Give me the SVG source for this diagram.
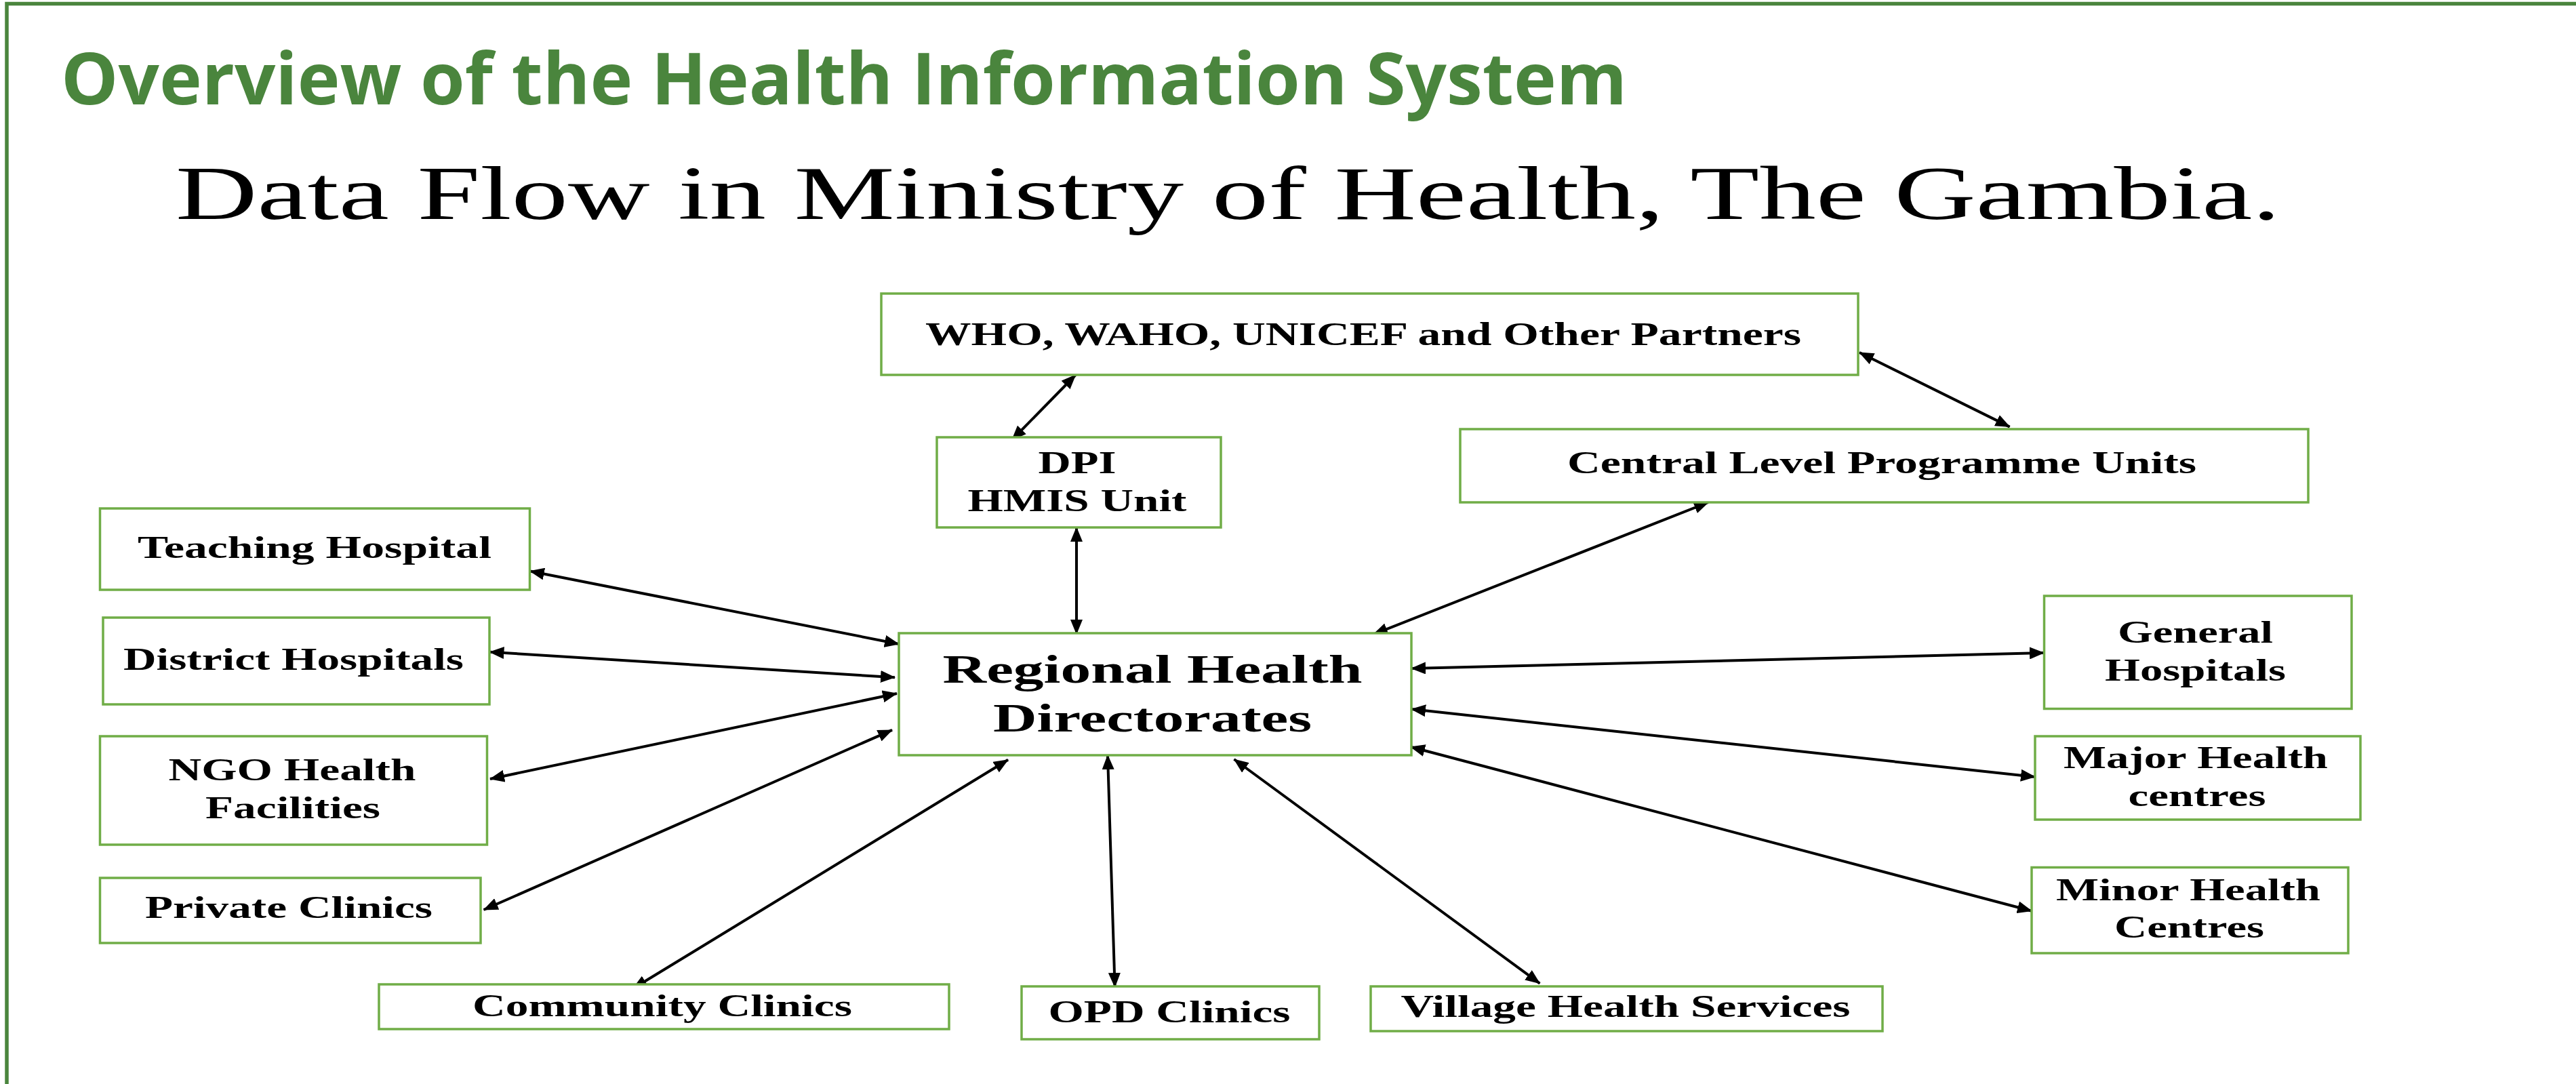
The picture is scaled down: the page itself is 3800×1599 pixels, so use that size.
<svg xmlns="http://www.w3.org/2000/svg" width="3800" height="1599" viewBox="0 0 3800 1599">
<defs>
<marker id="ah" markerUnits="userSpaceOnUse" markerWidth="22" markerHeight="18" refX="21" refY="9" orient="auto-start-reverse" viewBox="0 0 22 18">
<path d="M0,0 L22,9 L0,18 z" fill="#000"/>
</marker>
<style>
.box{fill:#fff;stroke:#70AD47;stroke-width:3.5}
.lbl{font-family:"Liberation Serif","Times New Roman",serif;font-weight:bold;font-size:46px;fill:#000;text-anchor:middle}
.big{font-size:60px}
.who{font-size:48px}
.con line{stroke:#000;stroke-width:4;marker-start:url(#ah);marker-end:url(#ah)}
</style>
</defs>
<rect width="3800" height="1599" fill="#fff"/>
<path d="M10,1599 V5.5 H3800" fill="none" stroke="#4A853D" stroke-width="5.5"/>
<text x="90" y="154" font-family="'Open Sans','Noto Sans',sans-serif" font-weight="bold" font-size="106" fill="#4A853D" textLength="2310" lengthAdjust="spacingAndGlyphs">Overview of the Health Information System</text>
<text x="259" y="323" font-family="'Liberation Serif','Times New Roman',serif" font-size="112" fill="#000" textLength="3105" lengthAdjust="spacingAndGlyphs">Data Flow in Ministry of Health, The Gambia.</text>

<g id="connectors" class="con">
<line x1="1586.7" y1="553" x2="1492.7" y2="649"/>
<line x1="2743" y1="520" x2="2964.6" y2="629.6"/>
<line x1="1588" y1="778" x2="1588" y2="935"/>
<line x1="2520" y1="741" x2="2026" y2="935.7"/>
<line x1="781.8" y1="842.5" x2="1326" y2="950"/>
<line x1="722.4" y1="961.7" x2="1320" y2="999.3"/>
<line x1="723" y1="1149" x2="1323" y2="1023"/>
<line x1="713.6" y1="1342" x2="1316" y2="1076.8"/>
<line x1="933.7" y1="1458.3" x2="1487" y2="1120.7"/>
<line x1="1634" y1="1114" x2="1644.6" y2="1456"/>
<line x1="1820.5" y1="1120" x2="2271.4" y2="1450.7"/>
<line x1="2082" y1="986" x2="3015" y2="963"/>
<line x1="2082" y1="1046" x2="3002" y2="1146"/>
<line x1="2081" y1="1101.7" x2="2997" y2="1343.7"/>
</g>

<g id="who">
<rect class="box" x="1300" y="433" width="1441" height="120"/>
<text class="lbl who" x="2011" y="509" textLength="1292" lengthAdjust="spacingAndGlyphs">WHO, WAHO, UNICEF and Other Partners</text>
</g>
<g id="dpi">
<rect class="box" x="1382" y="645" width="419" height="133"/>
<text class="lbl" x="1589" y="697.5" textLength="115" lengthAdjust="spacingAndGlyphs">DPI</text>
<text class="lbl" x="1589" y="754" textLength="323" lengthAdjust="spacingAndGlyphs">HMIS Unit</text>
</g>
<g id="central">
<rect class="box" x="2154" y="633" width="1251" height="108"/>
<text class="lbl" x="2776" y="697.5" textLength="928" lengthAdjust="spacingAndGlyphs">Central Level Programme Units</text>
</g>
<g id="regional">
<rect class="box" x="1326" y="934" width="756" height="180"/>
<text class="lbl big" x="1700" y="1007" textLength="619" lengthAdjust="spacingAndGlyphs">Regional Health</text>
<text class="lbl big" x="1700" y="1079" textLength="470" lengthAdjust="spacingAndGlyphs">Directorates</text>
</g>
<g id="teaching">
<rect class="box" x="147.5" y="750" width="634" height="120"/>
<text class="lbl" x="464" y="823" textLength="522" lengthAdjust="spacingAndGlyphs">Teaching Hospital</text>
</g>
<g id="district">
<rect class="box" x="152" y="911" width="570" height="128"/>
<text class="lbl" x="433" y="987.6" textLength="502" lengthAdjust="spacingAndGlyphs">District Hospitals</text>
</g>
<g id="ngo">
<rect class="box" x="147.5" y="1086" width="571" height="160"/>
<text class="lbl" x="431" y="1151" textLength="365" lengthAdjust="spacingAndGlyphs">NGO Health</text>
<text class="lbl" x="432" y="1207" textLength="258" lengthAdjust="spacingAndGlyphs">Facilities</text>
</g>
<g id="private">
<rect class="box" x="147.5" y="1295" width="561.5" height="96"/>
<text class="lbl" x="426" y="1354" textLength="424" lengthAdjust="spacingAndGlyphs">Private Clinics</text>
</g>
<g id="community">
<rect class="box" x="559" y="1452" width="841" height="66"/>
<text class="lbl" x="977" y="1499" textLength="560" lengthAdjust="spacingAndGlyphs">Community Clinics</text>
</g>
<g id="opd">
<rect class="box" x="1507" y="1455" width="439" height="78"/>
<text class="lbl" x="1725" y="1508" textLength="357" lengthAdjust="spacingAndGlyphs">OPD Clinics</text>
</g>
<g id="village">
<rect class="box" x="2022" y="1455" width="755" height="66"/>
<text class="lbl" x="2398" y="1500" textLength="663" lengthAdjust="spacingAndGlyphs">Village Health Services</text>
</g>
<g id="general">
<rect class="box" x="3015.5" y="879" width="453.5" height="166.5"/>
<text class="lbl" x="3238.5" y="948" textLength="229" lengthAdjust="spacingAndGlyphs">General</text>
<text class="lbl" x="3238.5" y="1004" textLength="267" lengthAdjust="spacingAndGlyphs">Hospitals</text>
</g>
<g id="major">
<rect class="box" x="3002" y="1086" width="480" height="123"/>
<text class="lbl" x="3239" y="1133" textLength="390" lengthAdjust="spacingAndGlyphs">Major Health</text>
<text class="lbl" x="3241" y="1189" textLength="203" lengthAdjust="spacingAndGlyphs">centres</text>
</g>
<g id="minor">
<rect class="box" x="2997" y="1279.5" width="467" height="126.5"/>
<text class="lbl" x="3228" y="1327.6" textLength="390" lengthAdjust="spacingAndGlyphs">Minor Health</text>
<text class="lbl" x="3229.5" y="1383" textLength="221" lengthAdjust="spacingAndGlyphs">Centres</text>
</g>
</svg>
